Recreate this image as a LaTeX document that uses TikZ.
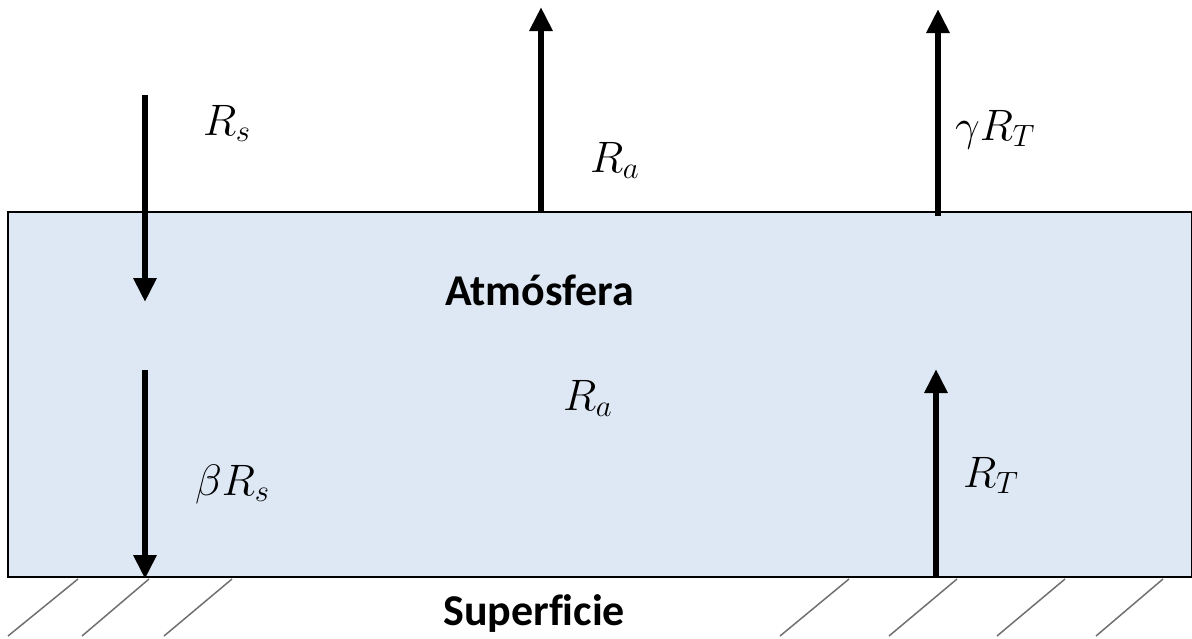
\documentclass[tikz,border=0pt]{standalone}
\usepackage{fix-cm}
\usepackage{fontspec}
\setmainfont{Carlito}[Ligatures=NoCommon]
\usepackage{tikz}
\usetikzlibrary{arrows.meta,positioning,calc}
\usepackage{xcolor}
\definecolor{airblue}{HTML}{DEE8F4}
\definecolor{hatchgray}{HTML}{707070}

\begin{document}
\begin{tikzpicture}[x=1pt, y=-1pt,
    flux/.style={line width=6pt, -{Triangle[width=22pt,length=24pt]}},
    lbl/.style={font=\fontsize{44}{50}\selectfont, inner sep=0pt, anchor=base west},
    title/.style={font=\fontsize{44}{50}\selectfont\bfseries, inner sep=0pt, anchor=base west},
    hatch/.style={draw=hatchgray, line width=1.5pt}]
  \useasboundingbox (0,0) rectangle (1192,638);

  % Atmosphere layer
  \draw[line width=2pt, fill=airblue] (8,212) rectangle (1192,577);
  \node[title] (atm) at (445,305) {Atmósfera};
  \node[title] (surf) at (443,625) {Superficie};

  % Ground hatching
  \foreach \xa/\xb in {78/8, 149/82, 232/164, 849/780, 957/889, 1065/997, 1163/1096}
    \draw[hatch] (\xa,579) -- (\xb,636);

  % Flux end points
  \coordinate (sIn) at (145,95);
  \coordinate (sOut) at (145,302);
  \coordinate (bIn) at (145,370);
  \coordinate (bOut) at (145,579);
  \coordinate (aIn) at (541,213);
  \coordinate (aOut) at (541,7);
  \coordinate (gIn) at (938,216);
  \coordinate (gOut) at (938,9);
  \coordinate (tIn) at (936,578);
  \coordinate (tOut) at (936,369);

  \draw[flux] (sIn) -- (sOut);
  \draw[flux] (bIn) -- (bOut);
  \draw[flux] (aIn) -- (aOut);
  \draw[flux] (gIn) -- (gOut);
  \draw[flux] (tIn) -- (tOut);

  % Labels
  \node[lbl] (rs) at (203,135) {$R_s$};
  \node[lbl] (ra) at (590,172) {$R_a$};
  \node[lbl] (grt) at (955,140) {$\gamma R_T$};
  \node[lbl] (ra2) at (563,410) {$R_a$};
  \node[lbl] (brs) at (195,495) {$\beta R_s$};
  \node[lbl] (rt) at (963,487) {$R_T$};
\end{tikzpicture}
\end{document}
